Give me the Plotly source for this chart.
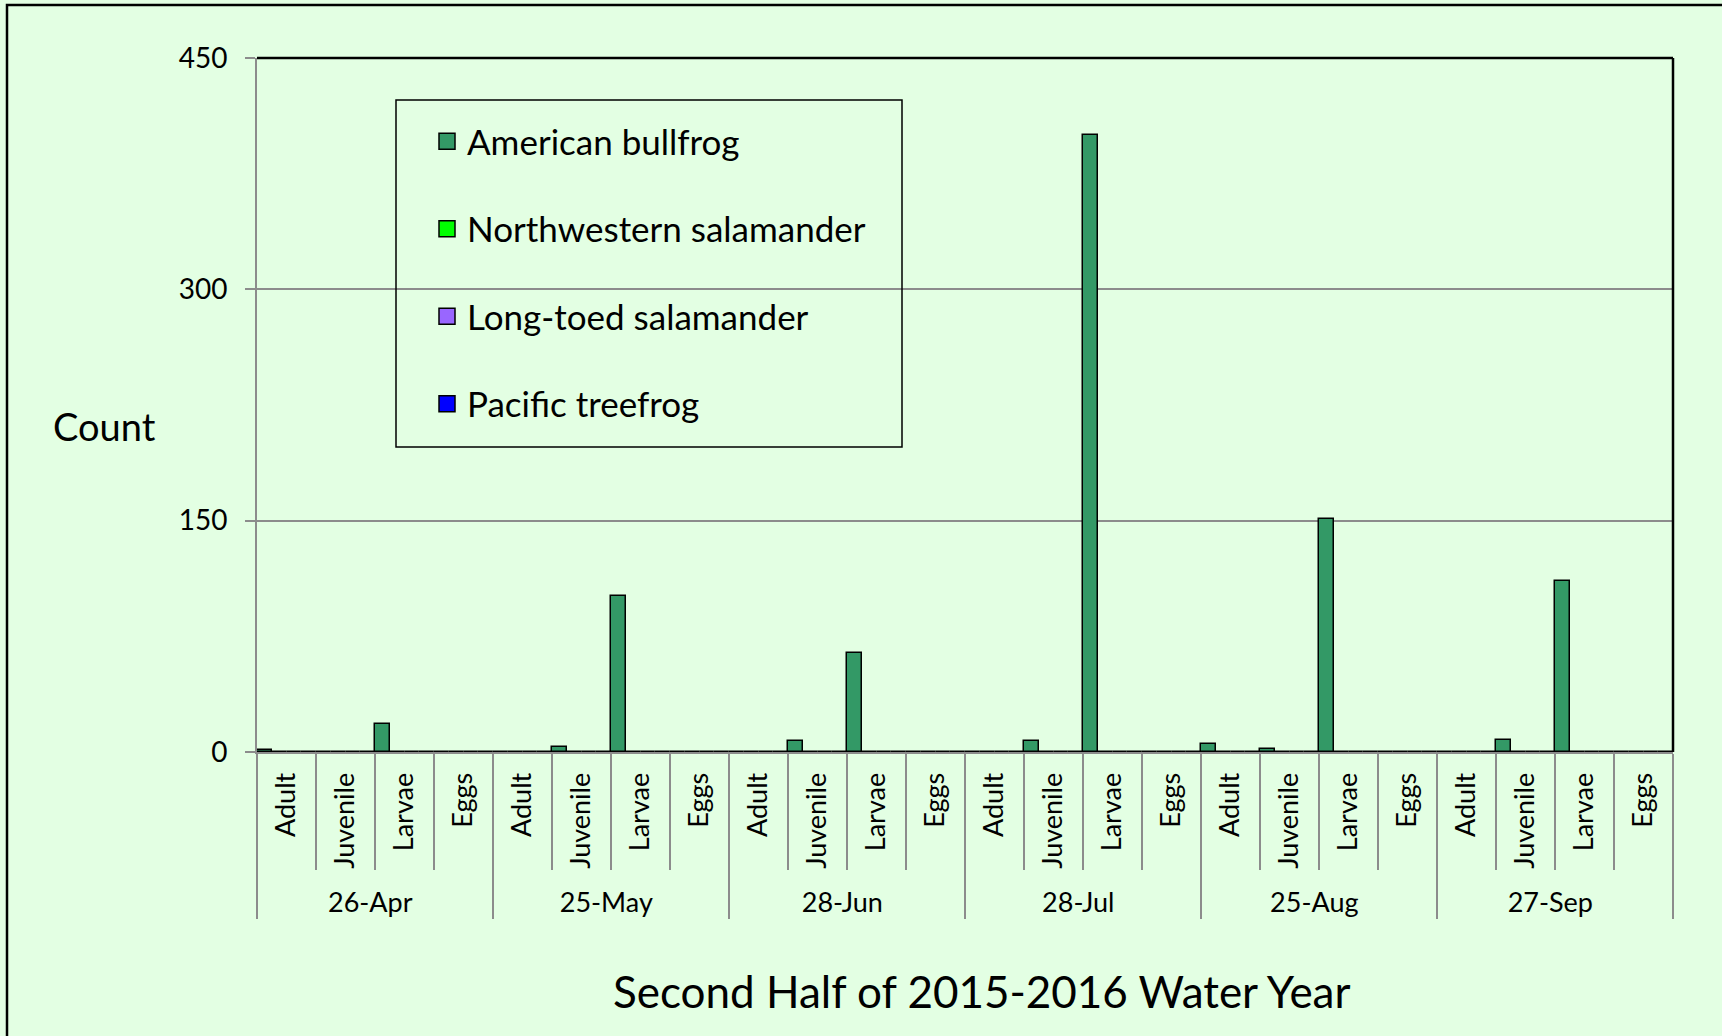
import plotly.graph_objects as go

dates = ["26-Apr", "25-May", "28-Jun", "28-Jul", "25-Aug", "27-Sep"]
stages = ["Adult", "Juvenile", "Larvae", "Eggs"]

series_names = ["American bullfrog", "Northwestern salamander", "Long-toed salamander", "Pacific treefrog"]
american_bullfrog = [1, 0, 18, 0,
                     0, 3, 101, 0,
                     0, 7, 64, 0,
                     0, 7, 400, 0,
                     5, 2, 151, 0,
                     0, 8, 111, 0]
northwestern_salamander = [0] * 24
long_toed_salamander = [0] * 24
pacific_treefrog = [0] * 24
colors = ["#339966", "#00FF00", "#9966FF", "#0000FF"]

y_ticks = [0, 150, 300, 450]

BG = "#E3FFE3"
FONT = "Lato, 'Open Sans', sans-serif"

outer = [d for d in dates for _ in stages]
inner = [s for _ in dates for s in stages]

fig = go.Figure()
for name, vals, col in zip(series_names,
                           [american_bullfrog, northwestern_salamander, long_toed_salamander, pacific_treefrog],
                           colors):
    fig.add_trace(go.Bar(
        x=[outer, inner], y=vals, name=name, legendgroup=name, showlegend=False,
        marker=dict(color=col, line=dict(color="black", width=1.5)),
    ))
# legend entries with larger square swatches
for name, col in zip(series_names, colors):
    fig.add_trace(go.Scatter(
        x=[None], y=[None], mode="markers", name=name, legendgroup=name,
        marker=dict(symbol="square", size=20, color=col, line=dict(color="black", width=1.5)),
        hoverinfo="skip",
    ))

W, H = 1722, 1036
L, R, T, B = 257, 49, 58, 284
pw, ph = W - L - R, H - T - B

def px(x):
    return (x - L) / pw

def py(y):
    return (H - B - y) / ph

fig.update_layout(
    width=W, height=H,
    margin=dict(l=L, r=R, t=T, b=B, autoexpand=False),
    paper_bgcolor=BG, plot_bgcolor=BG,
    font=dict(family=FONT, color="black", size=26),
    barmode="group", bargap=0, bargroupgap=0,
    showlegend=True,
    legend=dict(x=px(427), y=py(112), xanchor="left", yanchor="top",
                bgcolor="rgba(0,0,0,0)", borderwidth=0,
                font=dict(size=35, family=FONT), tracegroupgap=39,
                traceorder="grouped", itemsizing="trace"),
    xaxis=dict(
        type="multicategory", showline=True, linecolor="#8C8C8C", linewidth=2,
        ticks="outside", tickson="boundaries", ticklen=116, tickcolor="#8C8C8C", tickwidth=2,
        showdividers=True, dividercolor="#8C8C8C", dividerwidth=2,
        tickangle=-90, tickfont=dict(size=27, family=FONT), ticklabelstandoff=8,
        showgrid=False, zeroline=False,
    ),
    yaxis=dict(
        range=[0, 450], tickvals=y_ticks, showline=True, linecolor="#8C8C8C", linewidth=2,
        ticks="outside", ticklen=10, tickcolor="#8C8C8C", tickwidth=2,
        showgrid=True, gridcolor="#8C8C8C", gridwidth=1.5, zeroline=False,
        tickfont=dict(size=28, family=FONT), ticklabelstandoff=12,
    ),
    shapes=[
        # plot area top/right border
        dict(type="line", xref="paper", yref="paper", x0=0, x1=1, y0=1, y1=1,
             line=dict(color="black", width=2.5)),
        dict(type="line", xref="paper", yref="paper", x0=1, x1=1, y0=0, y1=1,
             line=dict(color="black", width=2.5)),
        # legend box
        dict(type="rect", xref="paper", yref="paper", x0=px(396), x1=px(902), y0=py(447), y1=py(100),
             line=dict(color="black", width=1.5), fillcolor="rgba(0,0,0,0)", layer="above"),
        # chart outer border
        dict(type="rect", xref="paper", yref="paper", x0=px(7), x1=px(1740), y0=py(1050), y1=py(5),
             line=dict(color="black", width=2.5), fillcolor="rgba(0,0,0,0)"),
    ],
    annotations=[
        dict(text="Count", xref="paper", yref="paper", x=px(104), y=py(426),
             xanchor="center", yanchor="middle",
             showarrow=False, font=dict(size=38, family=FONT)),
        dict(text="Second Half of 2015-2016 Water Year", xref="paper", yref="paper",
             x=px(982), y=py(991), xanchor="center", yanchor="middle",
             showarrow=False, font=dict(size=44, family=FONT)),
    ],
)

fig.write_html("out.html", config={"displayModeBar": False},
               post_script="document.body.style.margin='0';document.body.style.overflow='hidden';")
